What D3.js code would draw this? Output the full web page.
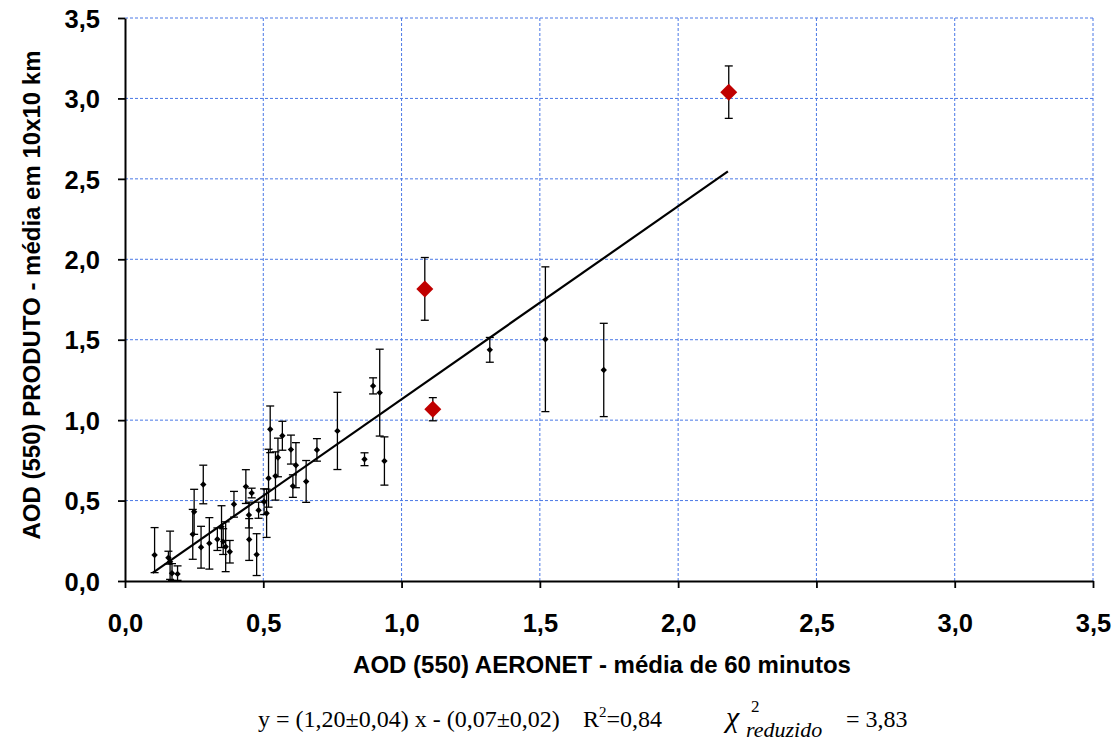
<!DOCTYPE html>
<html><head><meta charset="utf-8">
<script src="https://cdn.jsdelivr.net/npm/d3@7"></script>
<style>body{margin:0;background:#fff}svg{display:block}</style>
</head><body>
<svg id="c" width="1120" height="742"></svg>
<script>
// AERONET (x), product (y), error bar up/down — black points
const aeronetX = [0.107,0.157,0.163,0.170,0.190,0.245,0.250,0.275,0.283,0.305,0.334,0.349,0.355,0.364,0.379,0.394,0.437,0.448,0.449,0.458,0.476,0.483,0.503,0.512,0.519,0.525,0.544,0.553,0.569,0.600,0.607,0.618,0.655,0.694,0.768,0.866,0.897,0.921,0.938,1.319,1.520,1.731];
const productY = [0.162,0.145,0.120,0.048,0.044,0.290,0.430,0.210,0.600,0.234,0.260,0.338,0.245,0.213,0.182,0.477,0.587,0.410,0.258,0.547,0.164,0.440,0.493,0.421,0.639,0.943,0.653,0.768,0.903,0.817,0.590,0.720,0.619,0.815,0.933,0.757,1.213,1.171,0.746,1.437,1.503,1.312];
const errUp    = [0.170,0.040,0.190,0.060,0.050,0.155,0.140,0.130,0.120,0.160,0.070,0.130,0.080,0.155,0.070,0.080,0.105,0.080,0.130,0.030,0.130,0.050,0.080,0.150,0.180,0.145,0.150,0.120,0.090,0.090,0.070,0.140,0.130,0.070,0.240,0.040,0.050,0.270,0.150,0.077,0.450,0.290];
const errDown  = [0.110,0.040,0.110,0.045,0.040,0.155,0.140,0.130,0.120,0.160,0.070,0.130,0.080,0.155,0.070,0.080,0.105,0.080,0.130,0.030,0.130,0.050,0.080,0.150,0.180,0.145,0.150,0.120,0.090,0.090,0.070,0.140,0.130,0.070,0.240,0.040,0.050,0.270,0.150,0.077,0.450,0.290];
// highlighted (red) points
const redX = [1.084,1.113,2.183];
const redY = [1.816,1.068,3.039];
const redErr = [0.195,0.072,0.163];
// fit y = 1.20 x - 0.07
const fitSlope = 1.20, fitIntercept = -0.07;
const fitRange = [0.10, 2.18];
const ticks = [0,0.5,1.0,1.5,2.0,2.5,3.0,3.5];

const svg = d3.select("#c");
const L=125, R=1093, T=18, B=581;
const x = d3.scaleLinear().domain([0,3.5]).range([L,R]);
const y = d3.scaleLinear().domain([0,3.5]).range([B,T]);
const fmt = d => d3.format(".1f")(d).replace(".", ",");

// grid
const grid = svg.append("g").attr("stroke","#4a78e6").attr("stroke-width",1).attr("stroke-dasharray","3,2");
ticks.filter(t=>t>0).forEach(t=>{
  grid.append("line").attr("x1",x(t)).attr("x2",x(t)).attr("y1",T).attr("y2",B);
  grid.append("line").attr("x1",L).attr("x2",R).attr("y1",y(t)).attr("y2",y(t));
});

// axes
const xAxis = svg.append("g").attr("transform",`translate(0,${B})`)
  .call(d3.axisBottom(x).tickValues(ticks).tickFormat(fmt).tickSize(7).tickSizeOuter(0).tickPadding(44));
const yAxis = svg.append("g").attr("transform",`translate(${L},0)`)
  .call(d3.axisLeft(y).tickValues(ticks).tickFormat(fmt).tickSize(7).tickSizeOuter(0).tickPadding(18));
[xAxis,yAxis].forEach(a=>{
  a.select(".domain").attr("stroke","#000").attr("stroke-width",2);
  a.selectAll(".tick line").attr("stroke","#000").attr("stroke-width",1.8);
  a.selectAll("text").attr("font-family","Liberation Sans, Arial, sans-serif").attr("font-weight","bold").attr("font-size",25.5).attr("fill","#000");
});
xAxis.selectAll("text").attr("dy","0");
yAxis.selectAll("text").attr("dy","0.36em");

// fit line
svg.append("line")
  .attr("x1",x(fitRange[0])).attr("y1",y(fitSlope*fitRange[0]+fitIntercept))
  .attr("x2",x(fitRange[1])).attr("y2",y(fitSlope*fitRange[1]+fitIntercept))
  .attr("stroke","#000").attr("stroke-width",2.2);

// error bars
function errBars(g, xs, ys, ups, downs, cap){
  xs.forEach((xv,i)=>{
    const top=y(ys[i]+ups[i]), bot=y(ys[i]-downs[i]), cx=x(xv);
    g.append("line").attr("x1",cx).attr("x2",cx).attr("y1",top).attr("y2",bot);
    g.append("line").attr("x1",cx-cap).attr("x2",cx+cap).attr("y1",top).attr("y2",top);
    g.append("line").attr("x1",cx-cap).attr("x2",cx+cap).attr("y1",bot).attr("y2",bot);
  });
}
const eb = svg.append("g").attr("stroke","#000").attr("stroke-width",1.3);
errBars(eb, aeronetX, productY, errUp, errDown, 4);
errBars(eb, redX, redY, redErr, redErr, 4);

// markers
const diamond = (s)=>`M0,${-s}L${s},0L0,${s}L${-s},0Z`;
svg.append("g").selectAll("path").data(aeronetX).join("path")
  .attr("d",diamond(3.2)).attr("fill","#000")
  .attr("transform",(d,i)=>`translate(${x(d)},${y(productY[i])})`);
svg.append("g").selectAll("path").data(redX).join("path")
  .attr("d",diamond(8.5)).attr("fill","#c00000")
  .attr("transform",(d,i)=>`translate(${x(d)},${y(redY[i])})`);

// axis titles
svg.append("text").attr("x",602).attr("y",673).attr("text-anchor","middle")
  .attr("font-family","Liberation Sans, Arial, sans-serif").attr("font-weight","bold").attr("font-size",24)
  .text("AOD (550) AERONET  - média de 60 minutos");
svg.append("text").attr("transform","translate(40,295) rotate(-90)").attr("text-anchor","middle")
  .attr("font-family","Liberation Sans, Arial, sans-serif").attr("font-weight","bold").attr("font-size",24)
  .text("AOD (550) PRODUTO - média em 10x10 km");

// equation
const eq = svg.append("g").attr("font-family","Liberation Serif, Times New Roman, serif").attr("font-size",24).attr("fill","#000");
eq.append("text").attr("x",258).attr("y",727).text("y = (1,20±0,04) x - (0,07±0,02)");
const r2 = eq.append("text").attr("x",583).attr("y",727);
r2.append("tspan").text("R");
r2.append("tspan").attr("font-size",15).attr("dy",-10).text("2");
r2.append("tspan").attr("dy",10).text("=0,84");
eq.append("text").attr("x",726).attr("y",727).attr("font-style","italic").attr("font-size",30).text("χ");
eq.append("text").attr("x",751).attr("y",712).attr("font-size",17).text("2");
eq.append("text").attr("x",746).attr("y",737).attr("font-style","italic").attr("font-size",22).text("reduzido");
eq.append("text").attr("x",846).attr("y",727).text("= 3,83");
</script>
</body></html>
